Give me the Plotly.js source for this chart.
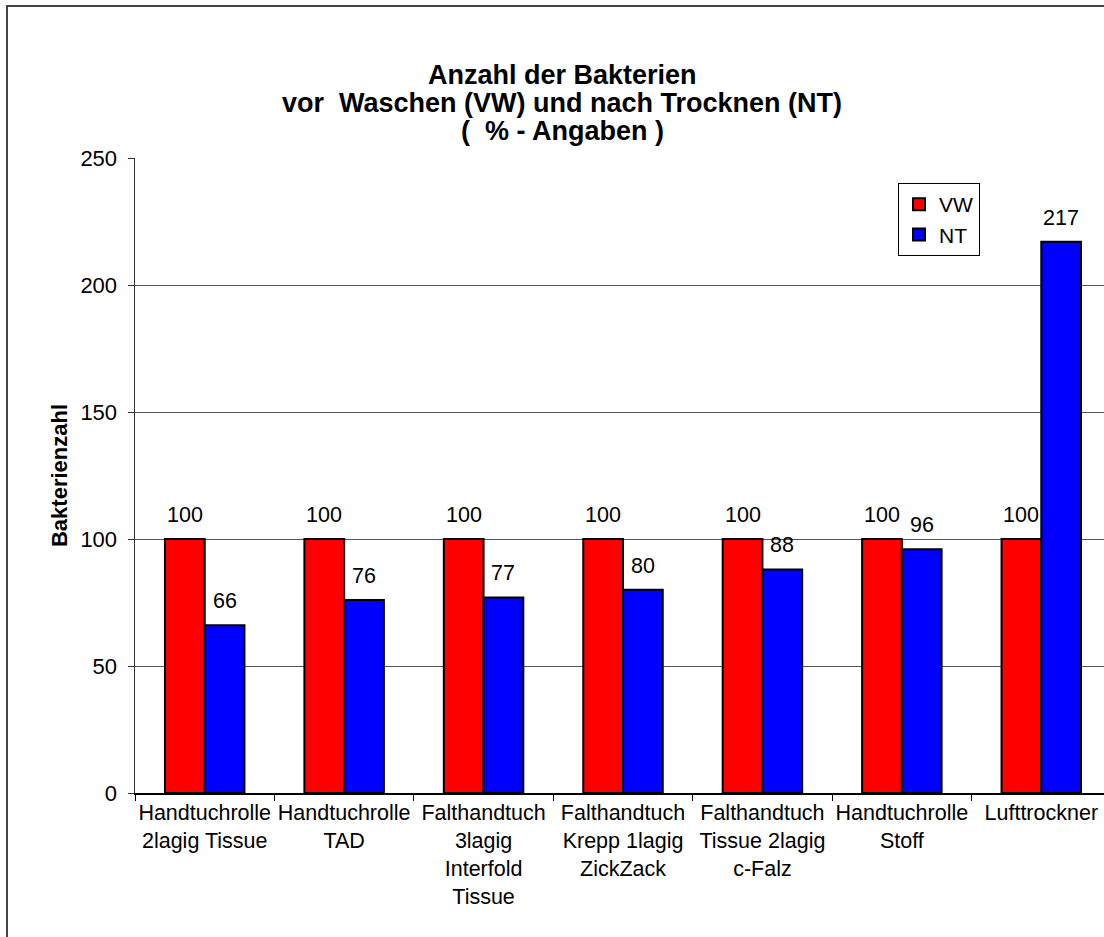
<!DOCTYPE html>
<html>
<head>
<meta charset="utf-8">
<script src="https://cdn.plot.ly/plotly-3.0.1.min.js"></script>
<style>
html,body{margin:0;padding:0;overflow:hidden;background:#fff;width:1104px;height:937px;}
#frame{position:absolute;left:6px;top:5px;width:1200px;height:1000px;border:2px solid #444;box-sizing:border-box;pointer-events:none;z-index:10;}
#chart{position:absolute;left:0;top:0;}
</style>
</head>
<body>
<div id="chart"></div>
<div id="frame"></div>
<script>
const categories = [
  "Handtuchrolle<br>2lagig Tissue",
  "Handtuchrolle<br>TAD",
  "Falthandtuch<br>3lagig<br>Interfold<br>Tissue",
  "Falthandtuch<br>Krepp 1lagig<br>ZickZack",
  "Falthandtuch<br>Tissue 2lagig<br>c-Falz",
  "Handtuchrolle<br>Stoff",
  "Lufttrockner"
];
const vwValues = [100, 100, 100, 100, 100, 100, 100];
const ntValues = [66, 76, 77, 80, 88, 96, 217];
const yTicks = [0, 50, 100, 150, 200, 250];
const titleLines = [
  "Anzahl der Bakterien",
  "vor  Waschen (VW) und nach Trocknen (NT)",
  "(  % - Angaben )"
];

const font = "Liberation Sans, Arial, sans-serif";
const W = 1120, H = 937, L = 135, R = 9, T = 158, B = 144;
const pw = W - L - R, ph = H - T - B;

const traces = [
  {type:"bar", name:"VW", x:categories, y:vwValues,
   marker:{color:"#ff0000", line:{color:"#000", width:2}}},
  {type:"bar", name:"NT", x:categories, y:ntValues,
   marker:{color:"#0000ff", line:{color:"#000", width:2}}}
];

const annotations = [];
const titleY = [75, 103, 131];
titleLines.forEach((t, i) => {
  annotations.push({text:"<b>"+t+"</b>", xref:"paper", yref:"paper",
    x:(562-L)/pw, y:(H-B-titleY[i])/ph, xanchor:"center", yanchor:"middle",
    showarrow:false, font:{family:font, size:27, color:"#000"}});
});
const halfBar = pw/categories.length*0.57/4;
categories.forEach((c, i) => {
  annotations.push({x:c, y:vwValues[i], text:String(vwValues[i]), xref:"x", yref:"y",
    showarrow:false, xshift:-halfBar, yshift:24, yanchor:"middle",
    font:{family:font, size:21.5, color:"#000"}});
  annotations.push({x:c, y:ntValues[i], text:String(ntValues[i]), xref:"x", yref:"y",
    showarrow:false, xshift:halfBar, yshift:24, yanchor:"middle",
    font:{family:font, size:21.5, color:"#000"}});
});

const layout = {
  width:W, height:H,
  margin:{l:L, r:R, t:T, b:B},
  paper_bgcolor:"#fff", plot_bgcolor:"#fff",
  font:{family:font, size:21.5, color:"#000"},
  barmode:"group", bargap:0.43, bargroupgap:0,
  annotations:annotations,
  xaxis:{type:"category", showline:true, linecolor:"#000", linewidth:1.5,
         ticks:"outside", tickson:"boundaries", ticklen:6, tickcolor:"#000",
         tickangle:0, automargin:false,
         tickfont:{family:font, size:21.5}, showgrid:false},
  yaxis:{range:[0,250], tickvals:yTicks, ticktext:yTicks.map(String),
         showline:true, linecolor:"#333", linewidth:1.5,
         ticks:"outside", ticklen:6, tickcolor:"#333", ticklabelstandoff:6,
         showgrid:true, gridcolor:"#555", gridwidth:1, zeroline:false,
         tickfont:{family:font, size:22}, automargin:false,
         title:{text:"<b>Bakterienzahl</b>", font:{family:font, size:22}, standoff:6}},
  legend:{x:(898-L)/pw, xref:"paper", y:1-(183-T)/ph, yanchor:"top", xanchor:"left",
          bgcolor:"#fff", bordercolor:"#000", borderwidth:1,
          font:{family:font, size:21}, itemwidth:30},
  showlegend:true
};
Plotly.newPlot("chart", traces, layout, {displayModeBar:false, staticPlot:true});
</script>
</body>
</html>
